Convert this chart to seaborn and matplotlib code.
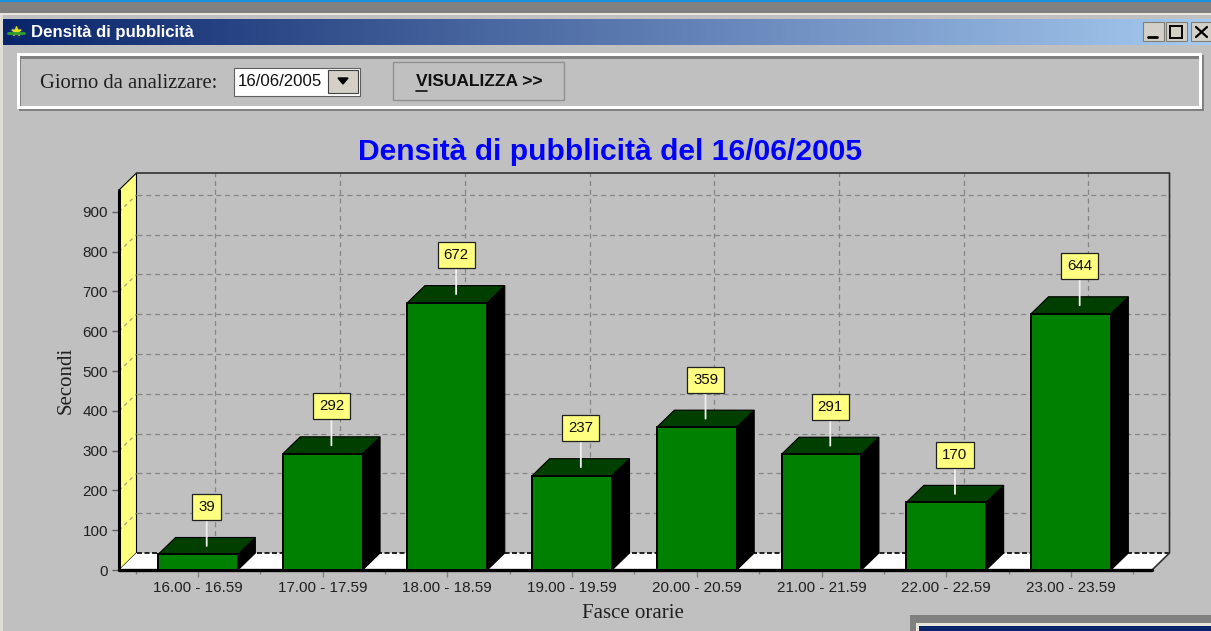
"""
Densita di pubblicita - window screenshot rebuilt with seaborn bars
"""

import numpy as np
import pandas as pd
import matplotlib.pyplot as plt
import seaborn as sns
from matplotlib.patches import Polygon, Rectangle

# === Data ===
fasce = ["16.00 - 16.59", "17.00 - 17.59", "18.00 - 18.59", "19.00 - 19.59",
         "20.00 - 20.59", "21.00 - 21.59", "22.00 - 22.59", "23.00 - 23.59"]
secondi = [39, 292, 672, 237, 359, 291, 170, 644]
y_ticks = [0, 100, 200, 300, 400, 500, 600, 700, 800, 900]

# === Settings ===
W, H = 1211, 631
FACE = "#C0C0C0"
SANS = "Liberation Sans"
SERIF = "Liberation Serif"
AX_L, AX_R, AX_T, AX_B = 119, 1152, 190, 570   # front plane, pixels
X_MIN, X_MAX = -0.633, 7.65
Y_MAX = 955
DX = 17.5 / 124.7    # depth in category units
DY = 17 / 0.398      # depth in seconds

sns.set_style("white")
plt.rcParams["font.family"] = [SANS, "DejaVu Sans"]

df = pd.DataFrame({"fascia": fasce, "secondi": secondi})
fig = plt.figure(figsize=(W / 100, H / 100), dpi=100, facecolor=FACE)

# === Window chrome, drawn in pixel coordinates ===
ch = fig.add_axes([0, 0, 1, 1], zorder=0)
ch.set_xlim(0, W)
ch.set_ylim(H, 0)
ch.axis("off")


def box(x0, y0, x1, y1, fc="none", ec="none", lw=0, z=1):
    ch.add_patch(Rectangle((x0, y0), x1 - x0, y1 - y0, facecolor=fc,
                           edgecolor=ec, linewidth=lw, zorder=z))


box(0, 0, W, 2, fc="#1A8FE0")
box(0, 2, W, 13, fc="#808080")
box(0, 13, W, 15, fc="#E8E6DC")
box(0, 15, 3, H, fc="#E0DED4")

grad = np.linspace(0, 1, 256).reshape(1, -1)
cmap = sns.blend_palette(["#0A246A", "#A6CAF0"], as_cmap=True)
ch.imshow(grad, extent=(3, W, 45, 19), aspect="auto", cmap=cmap, zorder=1)
ch.set_xlim(0, W)
ch.set_ylim(H, 0)
ch.text(31, 32, "Densità di pubblicità", color="white", fontsize=12.1,
        fontweight="bold", family=SANS, va="center")
ch.scatter([16], [32], s=75, color="#103070", zorder=2)
ch.scatter([16], [31], s=45, marker="*", color="#E8E020", zorder=3)
ch.plot([8, 24], [33, 33], color="#30A030", lw=2, zorder=3)

# title bar buttons
for x0, x1 in [(1143, 1164), (1166, 1187), (1191, 1211)]:
    box(x0, 22, x1, 41, fc="#D4D0C8", ec="#808078", lw=0.8, z=2)
ch.plot([1148, 1157], [37, 37], color="black", lw=2, zorder=3)
box(1170, 26, 1182, 38, ec="black", lw=1.4, z=3)
ch.plot([1196, 1207], [27, 37], color="black", lw=1.6, zorder=3)
ch.plot([1196, 1207], [37, 27], color="black", lw=1.6, zorder=3)

# group box
box(19, 55, 1204, 111, fc="#808080", z=1)
box(17, 53, 1202, 109, fc="white", z=1.1)
box(20, 56, 1199, 106, fc="#808080", z=1.2)
box(21, 59, 1199, 106, fc=FACE, z=1.3)
ch.text(40, 84, "Giorno da analizzare:", family=SERIF, fontsize=14.9,
        color="#202020", va="center")
box(234, 68, 360, 96, fc="white", ec="#606060", lw=0.8, z=2)
ch.text(238, 81, "16/06/2005", family=SANS, fontsize=12.1, color="#101010",
        va="center", zorder=3)
box(328, 70, 358, 93, fc="#D4D0C8", ec="#404040", lw=0.8, z=3)
ch.fill([338, 348, 343], [78, 78, 84], color="black", zorder=4)
box(393, 62, 564, 100, ec="#909090", lw=1.0, z=2)
ch.text(416, 82, "VISUALIZZA >>", family=SANS, fontsize=12.5, fontweight="bold",
        color="#101010", va="center", zorder=3)
ch.plot([416, 427], [91, 91], color="#101010", lw=1.2, zorder=3)

# child window peeking in at the corner
box(910, 615, W, H, fc="#808080", z=2)
box(916, 623, W, H, fc="#E8E6DC", z=2.1)
box(919, 626, W, H, fc="#0A246A", z=2.2)

# === Chart ===
ax = fig.add_axes([AX_L / W, 1 - AX_B / H, (AX_R - AX_L) / W, (AX_B - AX_T) / H],
                  zorder=1)
ax.patch.set_alpha(0)
sns.barplot(data=df, x="fascia", y="secondi", color="#008000", saturation=1,
            width=0.64, edgecolor="black", linewidth=1.4, ax=ax, zorder=3)
bars = list(ax.patches)
ax.set_xlim(X_MIN, X_MAX)
ax.set_ylim(0, Y_MAX)
sns.despine(ax=ax, left=True, bottom=True, right=True, top=True)


def poly(pts, fc, z, ec="black", lw=0.8):
    ax.add_patch(Polygon(pts, closed=True, facecolor=fc, edgecolor=ec,
                         linewidth=lw, zorder=z, clip_on=False))


# walls and floor
back_l, back_r = X_MIN + DX, X_MAX + DX
poly([(X_MIN, 0), (back_l, DY), (back_l, Y_MAX + DY), (X_MIN, Y_MAX)], "#FFFF80", 0.5)
poly([(X_MIN, 0), (X_MAX, 0), (back_r, DY), (back_l, DY)], "white", 0.5, ec="none")
ax.plot([back_l, back_r], [DY, DY], color="black", lw=1.2, ls=(0, (3, 1.5)),
        zorder=0.7, clip_on=False)
ax.plot([back_l, back_r, back_r, X_MAX], [Y_MAX + DY, Y_MAX + DY, DY, 0],
        color="#303030", lw=1.2, zorder=0.7, clip_on=False)
ax.plot([X_MIN, X_MIN], [0, Y_MAX], color="black", lw=2.2, zorder=0.8, clip_on=False)
ax.plot([X_MIN, X_MAX], [0, 0], color="black", lw=2.4, zorder=2.5, clip_on=False)

# grid on the back and left walls
for t in y_ticks[1:]:
    ax.plot([back_l, back_r], [t + DY, t + DY], color="#858585", lw=0.9,
            ls=(0, (4, 3)), zorder=0.6, clip_on=False)
    ax.plot([X_MIN, back_l], [t, t + DY], color="#A0A080", lw=0.9,
            ls=(0, (3, 3)), zorder=0.6, clip_on=False)
for i in range(len(fasce)):
    ax.plot([i + DX, i + DX], [DY, Y_MAX + DY], color="#858585", lw=0.9,
            ls=(0, (4, 3)), zorder=0.6, clip_on=False)

# 3d faces + value flags
for bar, val in zip(bars, secondi):
    x0 = bar.get_x()
    x1 = x0 + bar.get_width()
    h = bar.get_height()
    poly([(x1, 0), (x1 + DX, DY), (x1 + DX, h + DY), (x1, h)], "black", 2)
    poly([(x0, h), (x1, h), (x1 + DX, h + DY), (x0 + DX, h + DY)], "#003F00", 2)
    ax.annotate(str(val), xy=(x0 + bar.get_width() / 2 + DX / 2, h + DY / 2),
                xytext=(0, 28), textcoords="offset points", ha="center", va="center",
                fontsize=10.8, color="#101010", zorder=5, annotation_clip=False,
                bbox=dict(boxstyle="square,pad=0.4", fc="#FFFF80", ec="#202020", lw=0.9),
                arrowprops=dict(arrowstyle="-", color="#F0F0F0", lw=1.3,
                                shrinkA=0, shrinkB=0))

# axes text
ax.set_yticks(y_ticks)
ax.set_xticks(np.arange(len(fasce)))
ax.set_xticks(np.arange(-0.5, len(fasce)), minor=True)
ax.tick_params(axis="y", left=True, length=5, width=1, color="#606060",
               labelsize=11, labelcolor="#202020", pad=3)
ax.tick_params(axis="x", which="major", bottom=True, length=5, width=1, color="#808080",
               labelsize=11, labelcolor="#202020", pad=3)
ax.tick_params(axis="x", which="minor", bottom=True, length=3, width=1, color="#808080")
ax.set_ylabel("Secondi", family=SERIF, fontsize=15, color="#202020", va="center")
ax.set_xlabel("Fasce orarie", family=SERIF, fontsize=15, color="#202020", va="center")
ax.yaxis.set_label_coords((66 - AX_L) / (AX_R - AX_L), 0.5)
ax.xaxis.set_label_coords((633 - AX_L) / (AX_R - AX_L), (AX_B - 613) / (AX_B - AX_T))
ax.set_title("Densità di pubblicità del 16/06/2005", color="#0000FF", fontsize=21.6,
             fontweight="bold", x=(610 - AX_L) / (AX_R - AX_L),
             y=(AX_B - 152) / (AX_B - AX_T), va="center", pad=0)

plt.savefig("out.png", dpi=100, facecolor=FACE)
plt.close()
